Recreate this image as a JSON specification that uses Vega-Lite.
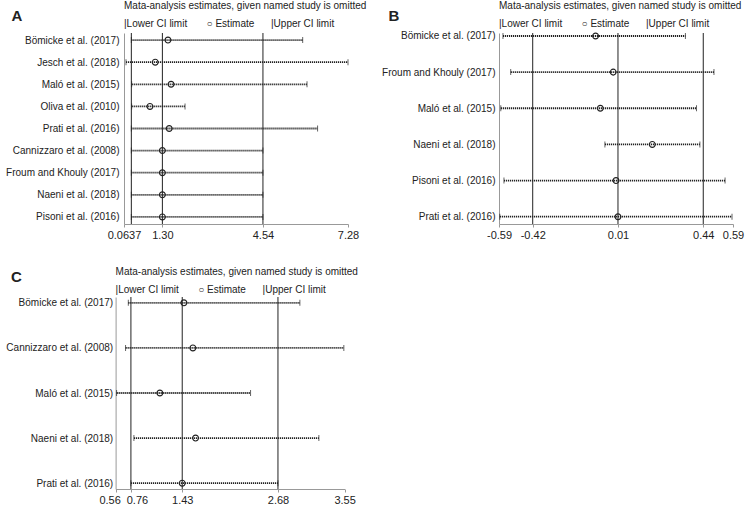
{
  "$schema": "https://vega.github.io/schema/vega-lite/v6.json",
  "padding": {"left": 5, "top": 1, "right": 5, "bottom": 3},
  "background": "white",
  "config": {
    "font": "Liberation Sans",
    "view": {"stroke": null},
    "axis": {"grid": false, "domainColor": "#999999", "tickColor": "#999999", "labelColor": "#222222", "titleColor": "#222222", "labelFont": "Liberation Sans", "titleFont": "Liberation Sans"},
    "title": {"anchor": "start", "frame": "group", "font": "Liberation Sans", "fontSize": 10, "fontWeight": "normal", "color": "#222222", "subtitleFont": "Liberation Sans", "subtitleFontSize": 10, "subtitleColor": "#222222", "subtitlePadding": 8}
  },
  "datasets": {
    "A": [
      {"study": "Bömicke et al. (2017)", "lower": 0.30, "est": 1.48, "upper": 5.82},
      {"study": "Jesch et al. (2018)", "lower": 0.128, "est": 1.07, "upper": 7.28},
      {"study": "Maló et al. (2015)", "lower": 0.31, "est": 1.58, "upper": 5.96},
      {"study": "Oliva et al. (2010)", "lower": 0.31, "est": 0.90, "upper": 2.03},
      {"study": "Prati et al. (2016)", "lower": 0.30, "est": 1.52, "upper": 6.30},
      {"study": "Cannizzaro et al. (2008)", "lower": 0.30, "est": 1.30, "upper": 4.54},
      {"study": "Froum and Khouly (2017)", "lower": 0.30, "est": 1.30, "upper": 4.54},
      {"study": "Naeni et al. (2018)", "lower": 0.30, "est": 1.30, "upper": 4.54},
      {"study": "Pisoni et al. (2016)", "lower": 0.30, "est": 1.30, "upper": 4.54}
    ],
    "linesA": [{"value": 0.30, "kind": "lower"}, {"value": 1.30, "kind": "est"}, {"value": 4.54, "kind": "upper"}],
    "B": [
      {"study": "Bömicke et al. (2017)", "lower": -0.57, "est": -0.103, "upper": 0.35},
      {"study": "Froum and Khouly (2017)", "lower": -0.531, "est": -0.014, "upper": 0.494},
      {"study": "Maló et al. (2015)", "lower": -0.581, "est": -0.079, "upper": 0.406},
      {"study": "Naeni et al. (2018)", "lower": -0.056, "est": 0.183, "upper": 0.423},
      {"study": "Pisoni et al. (2016)", "lower": -0.565, "est": 0.0, "upper": 0.55},
      {"study": "Prati et al. (2016)", "lower": -0.586, "est": 0.01, "upper": 0.585}
    ],
    "linesB": [{"value": -0.42, "kind": "lower"}, {"value": 0.01, "kind": "est"}, {"value": 0.44, "kind": "upper"}],
    "C": [
      {"study": "Bömicke et al. (2017)", "lower": 0.726, "est": 1.452, "upper": 2.966},
      {"study": "Cannizzaro et al. (2008)", "lower": 0.69, "est": 1.569, "upper": 3.54},
      {"study": "Maló et al. (2015)", "lower": 0.573, "est": 1.138, "upper": 2.322},
      {"study": "Naeni et al. (2018)", "lower": 0.799, "est": 1.604, "upper": 3.214},
      {"study": "Prati et al. (2016)", "lower": 0.76, "est": 1.43, "upper": 2.68}
    ],
    "linesC": [{"value": 0.76, "kind": "lower"}, {"value": 1.43, "kind": "est"}, {"value": 2.68, "kind": "upper"}]
  },
  "concat": [
    {
      "hconcat": [
        {
          "width": 224, "height": 191,
          "title": {"text": "Mata-analysis estimates, given named study is omitted", "subtitle": "|Lower CI limit\u00a0\u00a0\u00a0\u00a0\u00a0\u00a0\u00a0○ Estimate\u00a0\u00a0\u00a0\u00a0\u00a0\u00a0|Upper CI limit", "offset": -21},
          "data": {"name": "A"},
          "layer": [
            {"data": {"name": "linesA"}, "mark": {"type": "rule", "color": "#222222", "strokeWidth": 1}, "encoding": {"x": {"field": "value", "type": "quantitative", "scale": {"domain": [0.0637, 7.28], "nice": false, "zero": false}, "axis": {"values": [0.0637, 1.3, 4.54, 7.28], "format": ".3r", "title": null, "labelFontSize": 11, "tickSize": 3, "labelPadding": 2, "labelFlush": false, "labelOverlap": false}}}},
            {"mark": {"type": "rule", "strokeDash": [1.2, 0.8], "strokeWidth": 1.8, "color": "#222222"}, "encoding": {"y": {"field": "study", "type": "nominal", "sort": null, "scale": {"type": "point", "padding": 0.32}, "axis": {"title": "A", "titleAngle": 0, "titleFontSize": 15, "titleFontWeight": "bold", "titleAlign": "left", "titleBaseline": "alphabetic", "titleX": -113, "titleY": -13, "ticks": false, "labelPadding": 5, "labelFontSize": 10}}, "x": {"field": "lower", "type": "quantitative"}, "x2": {"field": "upper"}}},
            {"mark": {"type": "tick", "size": 6, "thickness": 1, "color": "#222222"}, "encoding": {"y": {"field": "study", "type": "nominal", "sort": null}, "x": {"field": "lower", "type": "quantitative"}}},
            {"mark": {"type": "tick", "size": 6, "thickness": 1, "color": "#222222"}, "encoding": {"y": {"field": "study", "type": "nominal", "sort": null}, "x": {"field": "upper", "type": "quantitative"}}},
            {"mark": {"type": "point", "shape": "circle", "filled": false, "size": 34, "strokeWidth": 1.2, "color": "#222222", "opacity": 1}, "encoding": {"y": {"field": "study", "type": "nominal", "sort": null}, "x": {"field": "est", "type": "quantitative"}}}
          ]
        },
        {
          "width": 234, "height": 191,
          "title": {"text": "Mata-analysis estimates, given named study is omitted", "subtitle": "|Lower CI limit\u00a0\u00a0\u00a0\u00a0\u00a0\u00a0\u00a0○ Estimate\u00a0\u00a0\u00a0\u00a0\u00a0\u00a0|Upper CI limit", "offset": -21},
          "data": {"name": "B"},
          "layer": [
            {"data": {"name": "linesB"}, "mark": {"type": "rule", "color": "#222222", "strokeWidth": 1}, "encoding": {"x": {"field": "value", "type": "quantitative", "scale": {"domain": [-0.59, 0.59], "nice": false, "zero": false}, "axis": {"values": [-0.59, -0.42, 0.01, 0.44, 0.59], "labelExpr": "replace(format(datum.value, '.2f'), '\u2212', '-')", "title": null, "labelFontSize": 11, "tickSize": 3, "labelPadding": 2, "labelFlush": false, "labelOverlap": false}}}},
            {"mark": {"type": "rule", "strokeDash": [1.2, 0.8], "strokeWidth": 1.8, "color": "#222222"}, "encoding": {"y": {"field": "study", "type": "nominal", "sort": null, "scale": {"type": "point", "padding": 0.142, "align": 0.29}, "axis": {"title": "B", "titleAngle": 0, "titleFontSize": 15, "titleFontWeight": "bold", "titleAlign": "left", "titleBaseline": "alphabetic", "titleX": -111, "titleY": -13, "ticks": false, "labelPadding": 4, "labelFontSize": 10}}, "x": {"field": "lower", "type": "quantitative"}, "x2": {"field": "upper"}}},
            {"mark": {"type": "tick", "size": 6, "thickness": 1, "color": "#222222"}, "encoding": {"y": {"field": "study", "type": "nominal", "sort": null}, "x": {"field": "lower", "type": "quantitative"}}},
            {"mark": {"type": "tick", "size": 6, "thickness": 1, "color": "#222222"}, "encoding": {"y": {"field": "study", "type": "nominal", "sort": null}, "x": {"field": "upper", "type": "quantitative"}}},
            {"mark": {"type": "point", "shape": "circle", "filled": false, "size": 34, "strokeWidth": 1.2, "color": "#222222", "opacity": 1}, "encoding": {"y": {"field": "study", "type": "nominal", "sort": null}, "x": {"field": "est", "type": "quantitative"}}}
          ]
        }
      ],
      "bounds": "flush",
      "spacing": 151
    },
    {
      "width": 221, "height": 192,
      "title": {"text": "Mata-analysis estimates, given named study is omitted", "subtitle": "|Lower CI limit\u00a0\u00a0\u00a0\u00a0\u00a0\u00a0\u00a0○ Estimate\u00a0\u00a0\u00a0\u00a0\u00a0\u00a0|Upper CI limit", "offset": -26, "dx": -8.4},
      "data": {"name": "C"},
      "layer": [
        {"data": {"name": "linesC"}, "mark": {"type": "rule", "color": "#222222", "strokeWidth": 1}, "encoding": {"x": {"field": "value", "type": "quantitative", "scale": {"domain": [0.56, 3.55], "range": [-8.4, 220.6], "nice": false, "zero": false}, "axis": {"values": [0.56, 0.76, 1.43, 2.68, 3.55], "format": ".2f", "title": null, "labelFontSize": 11, "tickSize": 3, "labelPadding": 2, "labelFlush": false, "labelOverlap": false, "labelOffset": {"condition": [{"test": "datum.value < 0.6", "value": -6}, {"test": "datum.value > 0.7 && datum.value < 0.8", "value": 6}], "value": 0}}}}},
        {"mark": {"type": "rule", "strokeDash": [1.2, 0.8], "strokeWidth": 1.8, "color": "#222222"}, "encoding": {"y": {"field": "study", "type": "nominal", "sort": null, "scale": {"type": "point", "padding": 0.13}, "axis": {"title": "C", "titleAngle": 0, "titleFontSize": 15, "titleFontWeight": "bold", "titleAlign": "left", "titleBaseline": "alphabetic", "titleX": -105, "titleY": -16, "ticks": false, "labelPadding": 3, "labelFontSize": 10, "offset": 8.4}}, "x": {"field": "lower", "type": "quantitative"}, "x2": {"field": "upper"}}},
        {"mark": {"type": "tick", "size": 6, "thickness": 1, "color": "#222222"}, "encoding": {"y": {"field": "study", "type": "nominal", "sort": null}, "x": {"field": "lower", "type": "quantitative"}}},
        {"mark": {"type": "tick", "size": 6, "thickness": 1, "color": "#222222"}, "encoding": {"y": {"field": "study", "type": "nominal", "sort": null}, "x": {"field": "upper", "type": "quantitative"}}},
        {"mark": {"type": "point", "shape": "circle", "filled": false, "size": 34, "strokeWidth": 1.2, "color": "#222222", "opacity": 1}, "encoding": {"y": {"field": "study", "type": "nominal", "sort": null}, "x": {"field": "est", "type": "quantitative"}}}
      ]
    }
  ],
  "columns": 1,
  "align": "none",
  "spacing": 27
}
